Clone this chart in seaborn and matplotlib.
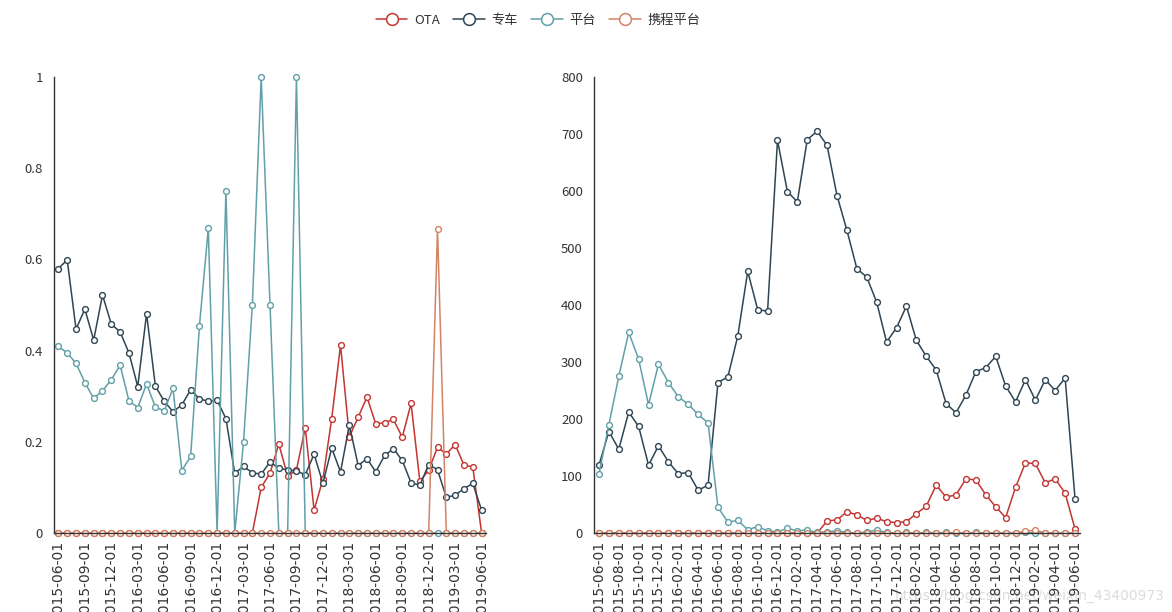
import numpy as np
import pandas as pd
import matplotlib
matplotlib.use("Agg")
import matplotlib.pyplot as plt
from matplotlib.lines import Line2D
import seaborn as sns

sns.set_style("white")
plt.rcParams['font.family'] = ['Noto Sans CJK SC', 'DejaVu Sans']

# ---- data ----
dates = [d.strftime("%Y-%m-%d") for d in pd.date_range("2015-06-01", "2019-06-01", freq="MS")]
series_names = ["OTA", "专车", "平台", "携程平台"]
colors = ["#c23531", "#2f4554", "#61a0a8", "#d48265"]

# left panel (ratios)
left_ota = [0]*23 + [0.100, 0.131, 0.195, 0.125, 0.138, 0.231, 0.050, 0.118, 0.251, 0.412,
                      0.211, 0.254, 0.298, 0.239, 0.242, 0.249, 0.210, 0.284, 0.113, 0.138,
                      0.188, 0.173, 0.194, 0.149, 0.145, 0.0]
left_car = [0.580, 0.599, 0.447, 0.491, 0.423, 0.522, 0.458, 0.441, 0.395, 0.321,
            0.481, 0.322, 0.289, 0.266, 0.281, 0.314, 0.294, 0.289, 0.291, 0.251,
            0.131, 0.146, 0.132, 0.129, 0.156, 0.142, 0.138, 0.136, 0.128, 0.173,
            0.109, 0.186, 0.134, 0.237, 0.148, 0.163, 0.134, 0.170, 0.185, 0.159,
            0.110, 0.105, 0.150, 0.139, 0.078, 0.083, 0.097, 0.109, 0.050]
left_platform = [0.409, 0.395, 0.372, 0.330, 0.295, 0.312, 0.336, 0.368, 0.290, 0.275,
                 0.327, 0.276, 0.268, 0.317, 0.137, 0.168, 0.455, 0.668, 0.0, 0.751,
                 0.0, 0.200, 0.501, 1.0, 0.501, 0.0, 0.0, 1.0] + [0]*21
left_ctrip = [0]*43 + [0.667] + [0]*5

# right panel (counts)
right_ota = [0]*23 + [21, 23, 37, 32, 22, 26, 20, 18, 20, 34,
                      47, 84, 63, 67, 95, 93, 67, 46, 27, 80,
                      123, 122, 88, 95, 70, 7]
right_car = [119, 178, 147, 212, 187, 119, 153, 125, 104, 106,
             75, 84, 264, 274, 346, 459, 392, 389, 689, 599,
             581, 690, 705, 680, 592, 531, 464, 449, 405, 335,
             360, 398, 338, 310, 286, 227, 211, 242, 283, 290,
             310, 258, 230, 269, 233, 269, 250, 272, 60]
right_platform = [103, 190, 275, 352, 305, 225, 296, 264, 239, 226,
                  208, 193, 45, 19, 22, 6, 11, 4, 2, 8,
                  4, 5, 1, 2, 4, 1, 0, 2, 5, 1,
                  0, 1, 0, 1, 0, 1, 0, 0, 1, 0,
                  0, 0, 0, 1, 0, 0, 0, 0, 0]
right_ctrip = [0]*36 + [1] + [0]*6 + [3, 5] + [0]*4

left_yticks = [0, 0.2, 0.4, 0.6, 0.8, 1.0]
right_yticks = list(range(0, 900, 100))

W, H = 1172, 612
fig = plt.figure(figsize=(W/100, H/100), dpi=100)

def axrect(x0, x1, y0, y1):
    return [x0/W, 1 - y1/H, (x1 - x0)/W, (y1 - y0)/H]

axL = fig.add_axes(axrect(54, 486, 77, 533))
axR = fig.add_axes(axrect(594, 1080, 77, 533))

idx = np.arange(len(dates))

def draw(ax, datas, ymax, yticks, label_step):
    for vals, c in zip(datas, colors):
        sns.lineplot(x=idx, y=np.asarray(vals, dtype=float), ax=ax, color=c, linewidth=1.1,
                     marker='o', markersize=4.2, markerfacecolor='white', markeredgecolor=c,
                     markeredgewidth=1.0, legend=False, clip_on=False)
    ax.set_xlim(-0.5, len(dates) - 0.5)
    ax.set_ylim(0, ymax)
    ax.set_yticks(yticks)
    ax.set_yticklabels([f"{v:g}" for v in yticks])
    bounds = np.arange(-0.5, len(dates), label_step)
    ax.set_xticks(bounds)
    ax.set_xticklabels([''] * len(bounds))
    lab_pos = np.arange(0, len(dates), label_step)
    ax.set_xticks(lab_pos, minor=True)
    ax.set_xticklabels([dates[i] for i in lab_pos], minor=True, rotation=90,
                       fontsize=10, color='#333333', family='DejaVu Sans')
    ax.tick_params(axis='x', which='minor', length=0, pad=5.5)
    ax.tick_params(axis='x', which='major', length=5, width=1, color='#333333', direction='out')
    ax.tick_params(axis='y', length=5, width=1, color='#333333', direction='out',
                   labelsize=9.5, labelcolor='#333333', pad=3)
    for s in ['top', 'right']:
        ax.spines[s].set_visible(False)
    for s in ['left', 'bottom']:
        ax.spines[s].set_color('#333333')
        ax.spines[s].set_linewidth(1)
    ax.set_xlabel('')
    ax.set_ylabel('')
    ax.grid(False)
    ax.set_facecolor('white')

draw(axL, [left_ota, left_car, left_platform, left_ctrip], 1.0, left_yticks, 3)
draw(axR, [right_ota, right_car, right_platform, right_ctrip], 800, right_yticks, 2)

handles = [Line2D([0], [0], color=c, linewidth=1.1, marker='o', markersize=8.5,
                  markerfacecolor='white', markeredgecolor=c, markeredgewidth=1.1)
           for c in colors]
fig.legend(handles, series_names, loc='upper center', bbox_to_anchor=(538/W, 1 - 2/H),
           ncol=4, frameon=False, fontsize=9.5, handlelength=2.4, handletextpad=0.5,
           columnspacing=1.0, labelcolor='#333333')

fig.text(1165/W, 1 - 600/H, "https://blog.csdn.net/weixin_43400973", ha='right', va='baseline',
         fontsize=10, color='#dcdcdc', family='DejaVu Sans', zorder=-1)

fig.savefig("out.png", dpi=100, facecolor='white')
